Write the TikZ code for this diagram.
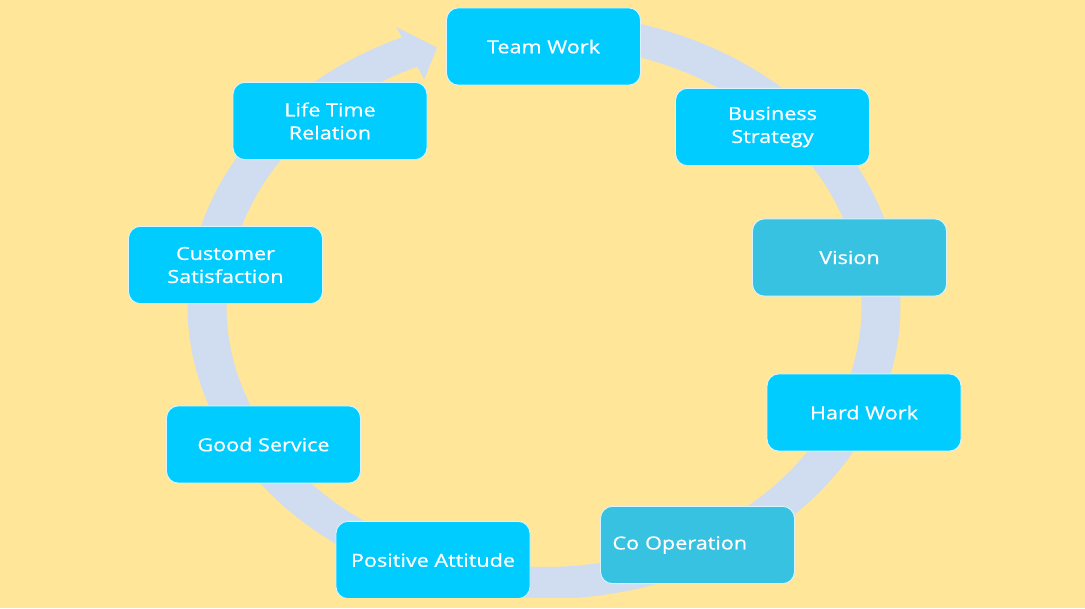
\documentclass[tikz,border=0pt]{standalone}
\usepackage{fontspec}
\setmainfont[FakeStretch=1.2,FakeBold=0.7]{Open Sans}
\definecolor{bgc}{HTML}{FFE699}
\definecolor{ringc}{HTML}{D0DCEF}
\definecolor{boxbright}{HTML}{00CCFF}
\definecolor{boxdark}{HTML}{38C2E2}
\definecolor{boxedge}{HTML}{D8F4FF}
\tikzset{
  cyclebox/.style={rounded corners=9pt, minimum width=145.5pt, minimum height=58pt,
    fill=boxbright, draw=boxedge, line width=0.7pt, text=white, align=center,
    font=\fontsize{13.5pt}{17.25pt}\selectfont, inner sep=2pt},
  darkbox/.style={cyclebox, fill=boxdark}
}
\begin{document}
\begin{tikzpicture}[x=0.75pt,y=-0.75pt]
\useasboundingbox (0,0) rectangle (1085,608);
\fill[bgc] (0,0) rectangle (1085,608);
\begin{scope}
\clip (0,0) rectangle (1085,597);
% ring with arrow head (ellipse: center 544,306; x-scale 1.2166)
\fill[ringc]
  plot[domain=0:326.5,samples=240] ({544+1.2166*293*cos(80-\x)},{306-293*sin(80-\x)})
  -- ({544+1.2166*304*cos(113.5)},{306-304*sin(113.5)})
  -- ({544+1.2166*273*cos(108.8)},{306-273*sin(108.8)})
  -- ({544+1.2166*247*cos(113.5)},{306-247*sin(113.5)})
  -- plot[domain=0:326.5,samples=240] ({544+1.2166*261*cos(\x-246.5)},{306-261*sin(\x-246.5)})
  -- cycle;
% boxes
\node[cyclebox] (team) at (543.5,46.5) {Team Work};
\node[cyclebox] (biz) at (772.5,127) {Business\\Strategy};
\node[darkbox] (vision) at (849.5,257.5) {Vision};
\node[cyclebox] (hard) at (864,412.5) {Hard Work};
\node[darkbox, align=left, text width=127.5pt, inner xsep=9pt] (coop) at (697.5,545) {Co Operation};
\node[cyclebox] (pos) at (433,560) {Positive Attitude};
\node[cyclebox] (good) at (263.5,444.5) {Good Service};
\node[cyclebox] (cust) at (225.5,265) {Customer\\Satisfaction};
\node[cyclebox] (life) at (330,121) {Life Time\\Relation};
\end{scope}
\end{tikzpicture}
\end{document}
